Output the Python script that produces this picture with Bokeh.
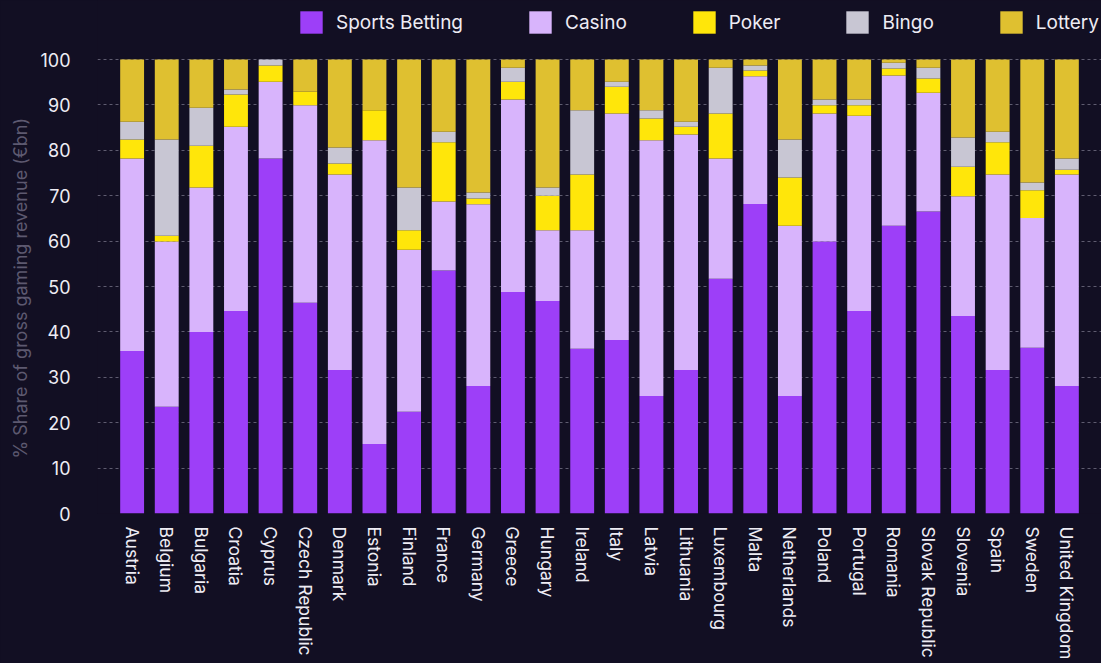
from bokeh.plotting import figure
from bokeh.models import ColumnDataSource, Range1d, FixedTicker, Legend, LegendItem, Title
from bokeh.embed import file_html
from bokeh.resources import INLINE

countries = ["Austria", "Belgium", "Bulgaria", "Croatia", "Cyprus", "Czech Republic",
             "Denmark", "Estonia", "Finland", "France", "Germany", "Greece", "Hungary",
             "Ireland", "Italy", "Latvia", "Lithuania", "Luxembourg", "Malta",
             "Netherlands", "Poland", "Portugal", "Romania", "Slovak Republic",
             "Slovenia", "Spain", "Sweden", "United Kingdom"]

sports_betting = [35.8, 23.5, 40.0, 44.6, 78.2, 46.4, 31.6, 15.3, 22.4, 53.5, 28.1, 48.8, 46.8, 36.3,
                  38.2, 25.9, 31.6, 51.7, 68.2, 25.9, 59.9, 44.6, 63.4, 66.5, 43.5, 31.6, 36.5, 28.1]
casino = [42.4, 36.4, 31.8, 40.6, 16.9, 43.5, 43.1, 66.9, 35.7, 15.2, 40.0, 42.4, 15.6, 26.1,
          49.9, 56.3, 51.9, 26.5, 28.1, 37.5, 28.2, 43.0, 33.1, 26.2, 26.4, 43.1, 28.6, 46.6]
poker = [4.2, 1.3, 9.2, 7.1, 3.6, 3.0, 2.4, 6.6, 4.3, 13.1, 1.3, 3.9, 7.6, 12.3,
         5.9, 4.8, 1.7, 9.9, 1.3, 10.6, 1.8, 2.3, 1.5, 3.1, 6.5, 7.1, 6.1, 1.0]
bingo = [3.9, 21.2, 8.4, 1.1, 1.3, 0.0, 3.5, 0.0, 9.4, 2.3, 1.3, 3.1, 1.8, 14.1,
         1.1, 1.8, 1.1, 10.1, 1.1, 8.4, 1.3, 1.3, 1.3, 2.4, 6.4, 2.3, 1.7, 2.5]
lottery = [13.7, 17.6, 10.6, 6.6, 0.0, 7.1, 19.4, 11.2, 28.2, 15.9, 29.3, 1.8, 28.2, 11.2,
           4.9, 11.2, 13.7, 1.8, 1.3, 17.6, 8.8, 8.8, 0.7, 1.8, 17.2, 15.9, 27.1, 21.8]

series_names = ["Sports Betting", "Casino", "Poker", "Bingo", "Lottery"]
series_colors = ["#9d3ff8", "#d8b4fc", "#ffe60a", "#c8c6d3", "#dfc030"]
y_ticks = [0, 10, 20, 30, 40, 50, 60, 70, 80, 90, 100]
y_title = "% Share of gross gaming revenue (€bn)"

BG = "#120f23"
FONT = "Inter"
TXT = "#eeecf4"

keys = ["sb", "casino", "poker", "bingo", "lottery"]
x = list(range(len(countries)))
source = ColumnDataSource(dict(x=x, sb=sports_betting, casino=casino, poker=poker,
                               bingo=bingo, lottery=lottery))

# frame reaches the canvas top; headroom above 100 holds the legend
p = figure(width=1101, height=663, output_backend="svg", toolbar_location=None,
           x_range=Range1d(-1, len(countries)), y_range=Range1d(0, 113),
           min_border_left=97, min_border_right=0, min_border_top=0, min_border_bottom=150)
p.styles = {"background-color": BG}
p.background_fill_color = BG
p.border_fill_color = BG
p.outline_line_color = None

renderers = p.vbar_stack(keys, x="x", width=0.69, source=source, color=series_colors,
                         line_color=None)

# Axes
p.xaxis.ticker = FixedTicker(ticks=x)
p.xaxis.major_label_overrides = {i: c for i, c in enumerate(countries)}
p.xaxis.major_label_orientation = "vertical"
p.xaxis.axis_line_color = None
p.xaxis.major_tick_line_color = None
p.xaxis.minor_tick_line_color = None
p.xaxis.major_label_standoff = 7
p.xaxis.major_label_text_font = FONT
p.xaxis.major_label_text_font_size = "17.5px"
p.xaxis.major_label_text_color = TXT

p.yaxis.ticker = FixedTicker(ticks=y_ticks)
p.yaxis.axis_line_color = None
p.yaxis.major_tick_line_color = None
p.yaxis.minor_tick_line_color = None
p.yaxis.major_label_standoff = 21
p.yaxis.major_label_text_font = FONT
p.yaxis.major_label_text_font_size = "18px"
p.yaxis.major_label_text_color = TXT

p.xgrid.grid_line_color = None
p.ygrid.grid_line_color = "#5f5c70"
p.ygrid.grid_line_dash = "3 3"
p.ygrid.grid_line_width = 1

# y-axis title, shifted so it is centred on the 0-100 span
p.add_layout(Title(text=y_title, align="left", offset=55, standoff=14,
                   text_font=FONT, text_font_size="18px", text_font_style="normal",
                   text_color="#5d5970"), "left")

legend = Legend(items=[LegendItem(label=n, renderers=[r]) for n, r in zip(series_names, renderers)],
                orientation="horizontal", location=(200, 477),
                glyph_width=28, glyph_height=28, label_standoff=11, spacing=63,
                padding=0, margin=0, background_fill_alpha=0, border_line_color=None,
                label_text_font=FONT, label_text_font_size="19px", label_text_color=TXT,
                label_height=28)
p.add_layout(legend, "center")

open("out.html", "w").write(file_html(p, INLINE))
